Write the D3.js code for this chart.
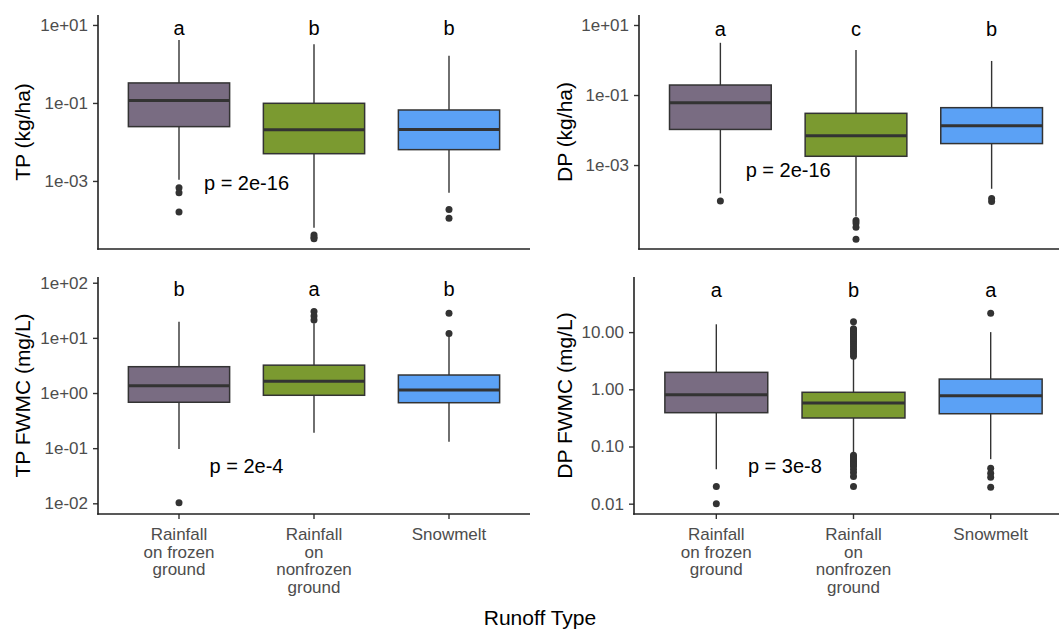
<!DOCTYPE html>
<html>
<head>
<meta charset="utf-8">
<script src="https://cdn.jsdelivr.net/npm/d3@7"></script>
<style>
  body { margin: 0; background: #ffffff; }
  svg { display: block; font-family: "Liberation Sans", Arial, sans-serif; }
</style>
</head>
<body>
<svg id="chart" width="1059" height="636"></svg>
<script>
// Runoff categories, their wrapped axis labels and box fills
const runoffTypes = ["Rainfall on frozen ground", "Rainfall on nonfrozen ground", "Snowmelt"];
const runoffLabelLines = [["Rainfall", "on frozen", "ground"], ["Rainfall", "on", "nonfrozen", "ground"], ["Snowmelt"]];
const runoffFills = ["#796c82", "#7b9a30", "#5ba1f5"];

// Box statistics per runoff type: [lower whisker, Q1, median, Q3, upper whisker]
const tpLoadStats = [[0.00107, 0.0247, 0.115, 0.326, 4.1], [6.3e-5, 0.005, 0.0205, 0.098, 3.2], [5e-4, 0.00635, 0.021, 0.066, 1.63]];
const tpLoadOutliers = [[6.7e-4, 5.0e-4, 1.6e-4], [4.1e-5, 3.6e-5, 3.3e-5], [1.86e-4, 1.1e-4]];
const tpLoadLetters = ["a", "b", "b"];

const dpLoadStats = [[1.55e-4, 0.0104, 0.060, 0.193, 3.1], [3.4e-5, 0.00178, 0.0069, 0.030, 1.93], [2.1e-4, 0.0041, 0.0133, 0.0435, 0.94]];
const dpLoadOutliers = [[9.4e-5], [2.6e-5, 2.2e-5, 1.66e-5, 7.6e-6], [1.1e-4, 9.1e-5]];
const dpLoadLetters = ["a", "c", "b"];

const tpConcStats = [[0.097, 0.68, 1.36, 3.0, 19.6], [0.19, 0.91, 1.63, 3.2, 18.4], [0.131, 0.667, 1.13, 2.12, 11]];
const tpConcOutliers = [[0.0102], [30, 25, 21], [28, 12]];
const tpConcLetters = ["b", "a", "b"];

const dpConcStats = [[0.040, 0.39, 0.805, 1.98, 13.7], [0.076, 0.315, 0.576, 0.887, 3.48], [0.06, 0.374, 0.773, 1.51, 10.0]];
const dpConcOutliers = [
  [0.02, 0.01],
  [15.2, 11.5, 11, 10.5, 10, 9.5, 9, 8.5, 8, 7.5, 7, 6.5, 6, 5.5, 5, 4.6, 4.2, 3.8,
   0.07, 0.066, 0.062, 0.058, 0.055, 0.052, 0.05, 0.048, 0.045, 0.04, 0.035, 0.03, 0.02],
  [21.3, 0.0416, 0.034, 0.029, 0.0194]
];
const dpConcLetters = ["a", "b", "a"];

// Kruskal-Wallis p-values and y ticks
const pLabels = ["p = 2e-16", "p = 2e-16", "p = 2e-4", "p = 3e-8"];
const loadTicks = [10, 0.1, 0.001];
const tpConcTicks = [100, 10, 1, 0.1, 0.01];
const dpConcTicks = [10, 1, 0.1, 0.01];

const sciFormat = v => {
  const e = Math.round(Math.log10(v));
  return "1e" + (e < 0 ? "-" : "+") + String(Math.abs(e)).padStart(2, "0");
};
const fixedFormat = v => v.toFixed(2);

// Panel layout
const panels = [
  { title: "TP (kg/ha)", stats: tpLoadStats, outliers: tpLoadOutliers, letters: tpLoadLetters, p: pLabels[0],
    x0: 98, x1: 530, yTop: 15, yBot: 249, domain: [1.8e-5, 18], ticks: loadTicks, fmt: sciFormat,
    letterY: 8.4, pY: 9e-4, titleX: 23, showX: false },
  { title: "DP (kg/ha)", stats: dpLoadStats, outliers: dpLoadOutliers, letters: dpLoadLetters, p: pLabels[1],
    x0: 639, x1: 1073, yTop: 15, yBot: 249, domain: [4e-6, 19.3], ticks: loadTicks, fmt: sciFormat,
    letterY: 7.7, pY: 7.4e-4, titleX: 565, showX: false },
  { title: "TP FWMC (mg/L)", stats: tpConcStats, outliers: tpConcOutliers, letters: tpConcLetters, p: pLabels[2],
    x0: 98, x1: 530, yTop: 277, yBot: 514, domain: [6.4e-3, 127], ticks: tpConcTicks, fmt: sciFormat,
    letterY: 77, pY: 0.047, titleX: 23, showX: true },
  { title: "DP FWMC (mg/L)", stats: dpConcStats, outliers: dpConcOutliers, letters: dpConcLetters, p: pLabels[3],
    x0: 634, x1: 1073, yTop: 277, yBot: 514, domain: [6.6e-3, 92], ticks: dpConcTicks, fmt: fixedFormat,
    letterY: 55, pY: 0.045, titleX: 565, showX: true }
];

const svg = d3.select("#chart");
const ink = "#333333";

panels.forEach(pn => {
  const g = svg.append("g");
  const x = d3.scaleBand().domain(runoffTypes).range([pn.x0, pn.x1]).paddingInner(0).paddingOuter(0.1);
  const y = d3.scaleLog().domain(pn.domain).range([pn.yBot, pn.yTop]);
  const cx = t => x(t) + x.bandwidth() / 2;
  const boxW = x.bandwidth() * 0.75;

  // Boxes
  runoffTypes.forEach((t, i) => {
    const [lo, q1, med, q3, hi] = pn.stats[i];
    const bg = g.append("g");
    bg.append("line").attr("x1", cx(t)).attr("x2", cx(t)).attr("y1", y(q3)).attr("y2", y(hi))
      .attr("stroke", ink).attr("stroke-width", 1.4);
    bg.append("line").attr("x1", cx(t)).attr("x2", cx(t)).attr("y1", y(q1)).attr("y2", y(lo))
      .attr("stroke", ink).attr("stroke-width", 1.4);
    bg.append("rect").attr("x", cx(t) - boxW / 2).attr("width", boxW)
      .attr("y", y(q3)).attr("height", y(q1) - y(q3))
      .attr("fill", runoffFills[i]).attr("stroke", ink).attr("stroke-width", 1.5);
    bg.append("line").attr("x1", cx(t) - boxW / 2).attr("x2", cx(t) + boxW / 2)
      .attr("y1", y(med)).attr("y2", y(med)).attr("stroke", ink).attr("stroke-width", 3);
    bg.selectAll("circle").data(pn.outliers[i]).join("circle")
      .attr("cx", cx(t)).attr("cy", d => y(d)).attr("r", 3.5).attr("fill", ink);
    // significance letter
    g.append("text").attr("x", cx(t)).attr("y", y(pn.letterY)).attr("dy", "0.35em")
      .attr("text-anchor", "middle").attr("font-size", 20).attr("fill", "#000").text(pn.letters[i]);
  });

  // p-value between the first two groups
  g.append("text").attr("x", (cx(runoffTypes[0]) + cx(runoffTypes[1])) / 2).attr("y", y(pn.pY)).attr("dy", "0.35em")
    .attr("text-anchor", "middle").attr("font-size", 20).attr("fill", "#000").text(pn.p);

  // Y axis
  const ya = g.append("g").attr("transform", `translate(${pn.x0},0)`)
    .call(d3.axisLeft(y).tickValues(pn.ticks).tickFormat(pn.fmt).tickSize(5).tickSizeOuter(0).tickPadding(5));
  ya.select(".domain").remove();
  ya.selectAll(".tick line").attr("stroke", ink).attr("stroke-width", 1.4);
  ya.selectAll(".tick text").attr("font-size", 17).attr("fill", "#4d4d4d")
    .attr("font-family", "'Liberation Sans', Arial, sans-serif");
  g.append("line").attr("x1", pn.x0).attr("x2", pn.x0).attr("y1", pn.yTop).attr("y2", pn.yBot + 0.8)
    .attr("stroke", "#222").attr("stroke-width", 1.6);

  // X axis
  if (pn.showX) {
    const xa = g.append("g").attr("transform", `translate(0,${pn.yBot})`)
      .call(d3.axisBottom(x).tickSize(5).tickSizeOuter(0).tickFormat(""));
    xa.select(".domain").remove();
    xa.selectAll(".tick line").attr("stroke", ink).attr("stroke-width", 1.4);
    runoffTypes.forEach((t, i) => {
      const tx = g.append("text").attr("x", cx(t)).attr("y", pn.yBot + 26)
        .attr("text-anchor", "middle").attr("font-size", 17).attr("fill", "#4d4d4d");
      runoffLabelLines[i].forEach((ln, k) => {
        tx.append("tspan").attr("x", cx(t)).attr("dy", k === 0 ? 0 : 17.5).text(ln);
      });
    });
  }
  g.append("line").attr("x1", pn.x0 - 0.8).attr("x2", pn.x1).attr("y1", pn.yBot).attr("y2", pn.yBot)
    .attr("stroke", "#222").attr("stroke-width", 1.6);

  // Y title
  g.append("text").attr("transform", `translate(${pn.titleX},${(pn.yTop + pn.yBot) / 2}) rotate(-90)`)
    .attr("dy", "0.35em").attr("text-anchor", "middle").attr("font-size", 21).attr("fill", "#000")
    .text(pn.title);
});

// Shared x title
svg.append("text").attr("x", 540).attr("y", 625).attr("text-anchor", "middle")
  .attr("font-size", 21).attr("fill", "#000").text("Runoff Type");
</script>
</body>
</html>
